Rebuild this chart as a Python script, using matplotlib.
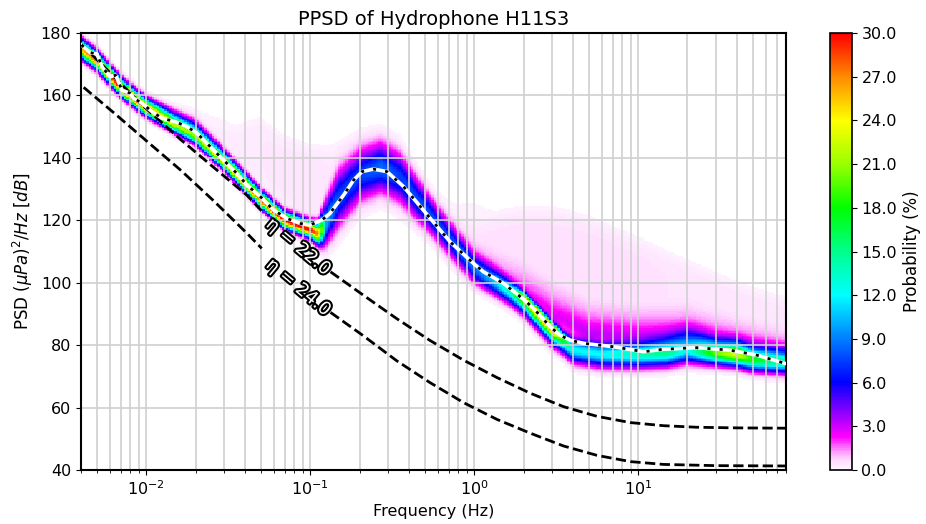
import numpy as np
import matplotlib
matplotlib.use("Agg")
import matplotlib.pyplot as plt
import matplotlib.patheffects as pe
from matplotlib.colors import LinearSegmentedColormap

# ---- data ----
# mode curve (white line with black dots)
mode_freq = [0.00402, 0.00456, 0.0050, 0.0054, 0.00603, 0.0065, 0.00711, 0.00798, 0.00833,
             0.00942, 0.01084, 0.01247, 0.01503, 0.0177, 0.0204, 0.0252, 0.0296, 0.0357,
             0.0411, 0.0496, 0.0597, 0.0721, 0.0869, 0.1, 0.1178, 0.132, 0.1387, 0.160,
             0.184, 0.207, 0.243, 0.294, 0.371, 0.427, 0.540, 0.714, 0.99, 1.14, 1.51,
             2.0, 2.30, 2.91, 3.34, 3.85, 4.64, 7.07, 10.8, 14.3, 22.8, 36.4, 53.0, 79.5]
mode_db = [176.2, 173.7, 173.3, 169.0, 166.0, 166.5, 161.7, 160.7, 159.2,
           157.5, 154.8, 152.7, 151.6, 150.0, 147.9, 143.0, 139.3, 135.0,
           131.3, 127.6, 123.3, 120.6, 119.0, 118.5, 120.1, 122.2, 123.8, 128.1,
           132.9, 135.6, 136.4, 135.6, 130.8, 127.0, 120.6, 113.1, 106.2, 103.5, 99.8,
           94.7, 91.8, 85.9, 83.2, 81.6, 80.6, 79.5, 77.9, 78.7, 79.2, 78.4, 76.8, 74.1]

# reference noise curves
eta22_freq = [0.00402, 0.0092, 0.0161, 0.0257, 0.0412, 0.0516, 0.133, 0.211, 0.337,
              0.538, 0.861, 1.38, 2.20, 3.51, 5.61, 8.97, 14.3, 22.9, 40.0, 79.5]
eta22_db = [176.5, 157.5, 146.0, 137.0, 128.0, 122.5, 103.5, 96.0, 88.5,
            81.5, 75.2, 69.6, 64.6, 60.3, 57.2, 55.2, 54.2, 53.7, 53.5, 53.4]
eta24_freq = [0.00415, 0.00632, 0.0101, 0.0161, 0.0257, 0.0412, 0.0506, 0.133, 0.211, 0.337,
              0.538, 0.861, 1.38, 2.20, 3.51, 5.61, 8.97, 14.3, 30.0, 79.5]
eta24_db = [162.6, 154.5, 145.3, 136.2, 126.3, 115.8, 111.0, 90.5, 83.0, 75.0,
            68.0, 61.6, 56.2, 51.8, 47.7, 44.7, 42.7, 41.8, 41.4, 41.3]
curve_labels = ["\u03b7 = 22.0", "\u03b7 = 24.0"]

# main probability band: centre, spread below / above, peak probability (%)
band_freq = [0.004, 0.005, 0.007, 0.01, 0.015, 0.02, 0.03, 0.05, 0.07, 0.1, 0.112, 0.125,
             0.15, 0.2, 0.27, 0.35, 0.54, 0.71, 1.0, 1.3, 1.7, 2.0, 2.5, 3.0, 3.5,
             4.0, 6.0, 10.0, 15.0, 20.0, 30.0, 40.0, 50.0, 80.0]
band_center = [175, 171, 162.5, 156, 150.5, 147, 138.5, 126.5, 120, 117, 115.5, 119,
               127, 134.4, 137, 133.7, 121.5, 114, 104.5, 100.5, 97, 95.2, 90, 85.5, 82,
               78.5, 77, 77, 77.5, 78.5, 77.5, 77, 75.5, 74.5]
band_sig_lo = [1.8, 1.7, 1.6, 1.5, 1.5, 1.5, 1.5, 1.5, 1.5, 1.6, 2.0, 4.0,
               5.4, 5.0, 4.7, 4.7, 3.5, 3.4, 2.8, 2.5, 2.5, 2.8, 2.8, 2.8, 2.6,
               2.5, 2.5, 2.5, 2.5, 2.5, 2.2, 2.2, 2.2, 2.2]
band_sig_hi = [1.8, 1.8, 1.8, 1.8, 2.2, 2.4, 2.0, 1.8, 1.7, 1.7, 2.2, 4.2,
               5.4, 5.0, 4.7, 4.7, 3.5, 3.4, 2.8, 2.5, 1.8, 1.2, 1.2, 1.2, 1.5,
               2.5, 2.5, 2.5, 3.0, 3.5, 2.5, 2.5, 2.5, 2.5]
band_peak = [26, 28, 30, 28, 22, 21, 24, 28, 30, 30, 27, 10,
             7.5, 7.5, 8.5, 7.5, 7.5, 7, 8, 10, 14, 22, 26, 28, 18,
             12, 12, 14, 15, 12, 20, 23, 18, 14]

# faint scattered cloud above the band: plateau + tail decaying upwards
cloud_freq = [0.012, 0.02, 0.035, 0.05, 0.07, 0.1, 0.13, 0.2, 0.3, 0.45, 0.6, 0.8, 1.0,
              1.5, 2.0, 3.0, 5.0, 10.0, 20.0, 40.0, 80.0]
cloud_bottom = [157, 151, 140, 133, 126, 121, 122, 140, 142, 126, 117, 110, 106,
                100, 96, 88, 83, 82, 83, 81, 78]
cloud_top = [159, 156, 150, 152, 146, 143, 143, 148, 148, 136, 124, 120, 119,
             122, 123, 123, 120, 113, 106, 99, 94]
cloud_level = [0.0, 0.2, 0.3, 0.35, 0.4, 0.45, 0.35, 0.2, 0.2, 0.3, 0.35, 0.45, 0.5,
               0.5, 0.5, 0.5, 0.5, 0.5, 0.45, 0.45, 0.45]
tail_amp = [0, 0, 0, 0, 0, 0, 0, 0, 0, 0, 0.5, 1.5, 2.0,
            2.5, 3.0, 4.0, 4.5, 4.0, 3.5, 3.0, 2.5]
tail_decay = [6, 6, 6, 6, 6, 6, 6, 6, 6, 6, 6, 6, 7,
              7, 7, 7, 6, 6, 6, 5, 5]

# ---- build the probability grid ----
f_edges = np.logspace(np.log10(0.004), np.log10(80), 281)
db_edges = np.arange(40, 180.01, 0.5)
lf = np.log10(np.sqrt(f_edges[:-1] * f_edges[1:]))
db = ((db_edges[:-1] + db_edges[1:]) / 2)[:, None]


def at(nodes, vals, fill=None):
    if fill is None:
        return np.interp(lf, np.log10(nodes), vals)[None, :]
    return np.interp(lf, np.log10(nodes), vals, left=fill, right=fill)[None, :]


d = db - at(band_freq, band_center)
sig = np.where(d < 0, at(band_freq, band_sig_lo), at(band_freq, band_sig_hi))
prob = at(band_freq, band_peak) * np.exp(-0.5 * (d / sig) ** 2)

bot = at(cloud_freq, cloud_bottom)
top = at(cloud_freq, cloud_top)
edge = 1 / (1 + np.exp(-(db - bot) / 1.0)) / (1 + np.exp(-(top - db) / 1.5))
cloud = at(cloud_freq, cloud_level, 0) * edge
tail = at(cloud_freq, tail_amp, 0) * np.exp(-np.clip(db - bot, 0, None) / at(cloud_freq, tail_decay))
tail = tail / (1 + np.exp(-(db - bot) / 1.0))
prob = prob + np.maximum(cloud, tail)
prob = np.ma.masked_less(prob, 0.12)

# PQLX-like colour map
pqlx = LinearSegmentedColormap.from_list("pqlx", [
    (0.0, (1, 0.96, 1)), (0.02, (1, 0.86, 1)), (0.04, (1, 0.62, 1)), (0.06, (1, 0.25, 1)),
    (0.075, (1, 0, 1)), (0.1, (0.8, 0, 1)), (0.2, (0, 0, 1)), (0.3, (0, 0.5, 1)),
    (0.4, (0, 1, 1)), (0.5, (0, 1, 0.55)), (0.6, (0, 1, 0)), (0.7, (0.6, 1, 0)),
    (0.8, (1, 1, 0)), (0.9, (1, 0.55, 0)), (1.0, (1, 0, 0))])

fig = plt.figure(figsize=(9.26, 5.24), dpi=100)
ax = fig.add_axes([0.0875, 0.103, 0.7615, 0.834])
mesh = ax.pcolormesh(f_edges, db_edges, prob, cmap=pqlx, vmin=0, vmax=30,
                     rasterized=True, zorder=1)

ax.plot(mode_freq, mode_db, color="white", lw=2.6, zorder=4)
ax.plot(mode_freq, mode_db, color="black", lw=2, dashes=[1.1, 3.3], zorder=5)

outline = [pe.withStroke(linewidth=3, foreground="black")]
for fr, vals, lab, gap, ypos in [(eta22_freq, eta22_db, curve_labels[0], (0.052, 0.132), 111.5),
                                 (eta24_freq, eta24_db, curve_labels[1], (0.051, 0.132), 98.5)]:
    fr = np.array(fr)
    vals = np.array(vals)
    lo = fr <= gap[0]
    hi = fr >= gap[1]
    ax.plot(fr[lo], vals[lo], "k--", lw=2, zorder=3)
    ax.plot(fr[hi], vals[hi], "k--", lw=2, zorder=3)
    ax.text(0.0845, ypos, lab, rotation=-40, ha="center", va="center", fontsize=13,
            color="white", path_effects=outline, zorder=6, rotation_mode="anchor")

ax.set_xscale("log")
ax.set_xlim(0.004, 80)
ax.set_ylim(40, 180)
ax.set_yticks(np.arange(40, 181, 20))
ax.grid(True, which="both", axis="x", color="#d0d0d0", lw=1.2)
ax.grid(True, which="major", axis="y", color="#d0d0d0", lw=1.2)
ax.tick_params(labelsize=11.5)
for s in ax.spines.values():
    s.set_linewidth(1.5)
ax.set_title("PPSD of Hydrophone H11S3", fontsize=14)
ax.set_xlabel("Frequency (Hz)", fontsize=11.5)
ax.set_ylabel(r"PSD $(\mu Pa)^2/Hz$ $[dB]$", fontsize=12)

cax = fig.add_axes([0.896, 0.103, 0.0238, 0.834])
cb = fig.colorbar(mesh, cax=cax, ticks=np.arange(0, 31, 3), format="%.1f")
cb.set_label("Probability (%)", fontsize=12)
cb.ax.tick_params(labelsize=11.5)
cb.outline.set_linewidth(1.2)

fig.savefig("out.png", dpi=100)
